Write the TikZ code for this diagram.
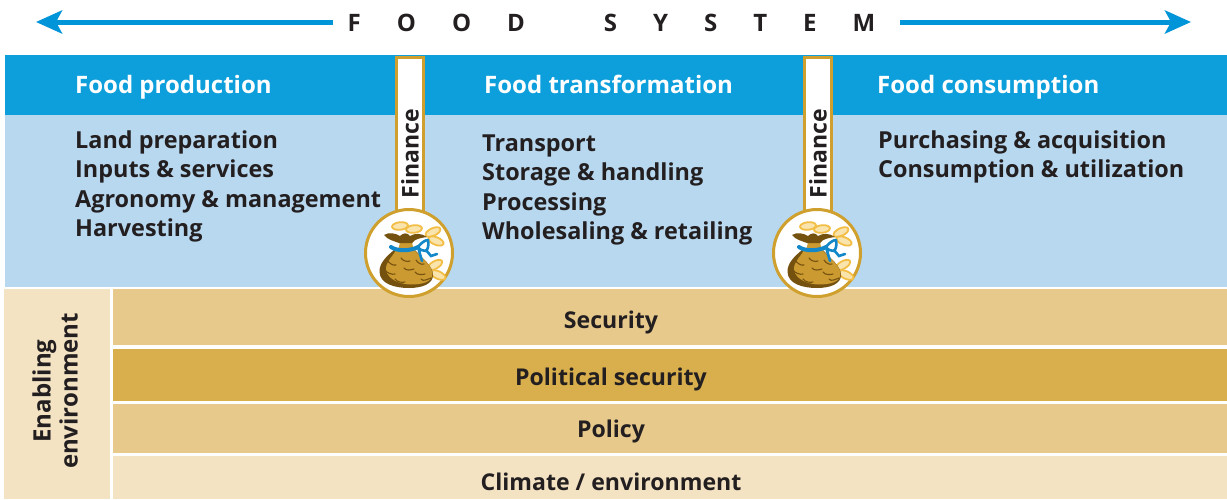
\documentclass[tikz,border=0pt]{standalone}
\usepackage{fontspec}
\setmainfont{Open Sans}
\usetikzlibrary{arrows.meta}
\definecolor{hdrblue}{HTML}{0D9FDB}
\definecolor{lightblue}{HTML}{B8D8F0}
\definecolor{arrowblue}{HTML}{0094D8}
\definecolor{sandA}{HTML}{E7C98C}
\definecolor{sandB}{HTML}{D9AF4E}
\definecolor{sandC}{HTML}{F3E3C3}
\definecolor{goldline}{HTML}{CFA02E}
\definecolor{bagfill}{HTML}{CB9A30}
\definecolor{bagdark}{HTML}{75510F}
\definecolor{coinfill}{HTML}{F9E4AE}
\definecolor{coinline}{HTML}{F3BE45}
\definecolor{ribbon}{HTML}{1287C9}
\definecolor{ink}{HTML}{231F20}
\newcommand{\moneybag}[1]{%
  \begin{scope}[shift={(#1)}]
    % coins behind
    \foreach \cx/\cy/\ang in {-9/-27/6,5/-24/6,24/-21/25,27/-12/-22,26/12/30,29/22/-25}{
      \filldraw[fill=coinfill,draw=coinline,line width=1.8pt,rotate around={\ang:(\cx,\cy)}] (\cx,\cy) ellipse [x radius=8,y radius=3.8];
    }
    % body: dark silhouette, then lighter front
    \fill[bagdark] (-15,-3) .. controls (-22,3) and (-30,10) .. (-29.5,19) .. controls (-29,31) and (-14,35) .. (0,35) .. controls (13,35) and (24,31) .. (24,22) .. controls (24,13) and (13,5) .. (6,-3) -- cycle;
    \fill[bagfill] (-13,-3) .. controls (-16,3) and (-24,10) .. (-23,17) .. controls (-21,27) and (-8,31.5) .. (2,31.5) .. controls (13,31.5) and (23.5,29) .. (23.5,21) .. controls (23.5,13) and (13,5) .. (5,-3) -- cycle;
    % neck and flared top
    \fill[bagfill] (-12,-2) .. controls (-9,-7) and (-9,-10) .. (-10,-14) -- (4,-14) .. controls (3,-10) and (3,-6) .. (6,-2) -- cycle;
    \fill[bagdark] (-25,-18) .. controls (-20,-21) and (-14,-20) .. (-9,-17) .. controls (-6,-20) and (-2,-21) .. (1,-17) .. controls (6,-20) and (12,-20) .. (18,-16) .. controls (11,-15) and (6,-14) .. (3,-10) -- (-10,-10) .. controls (-15,-12) and (-21,-13) .. (-25,-18) -- cycle;
    % folds
    \foreach \ax/\ay/\bx/\by in {-22/7/-13/12,-24/17/-14/21,-14/26/-4/29,-8/5/1/8,-5/15/5/16,7/7/15/11,6/19/16/21,12/26/22/25}{
      \draw[bagdark,line width=1.1pt,line cap=round] (\ax,\ay) .. controls (\ax+2,\ay+3) and (\bx-3,\by+1) .. (\bx,\by);
    }
    % ribbon
    \draw[ribbon,line width=4pt,line cap=round] (-18,-6) .. controls (-12,-1.5) and (2,-2) .. (9,-6);
    \draw[ribbon,line width=2.6pt,line cap=round,line join=round] (9,-6) .. controls (12,-10) and (16,-13) .. (19,-13) .. controls (20,-8) and (19,-4) .. (17,-2) .. controls (14,-2) and (11,-3) .. (9,-6) -- (13,8);
    \draw[ribbon,line width=2.6pt,line cap=round] (17,-3) -- (22,3) -- (28,1);
  \end{scope}}
\tikzset{
  x=1pt,y=-1pt,
  banner/.style={fill=#1,inner sep=0pt,outer sep=0pt,anchor=north west},
  hdrlabel/.style={anchor=base west,inner sep=0pt,text=white,font=\fontsize{24}{24}\selectfont\bfseries},
  itemlist/.style={anchor=north west,inner sep=0pt,align=left,text=ink,font=\fontsize{23.4}{29.3}\selectfont\bfseries},
  bandlabel/.style={text=ink,inner sep=0pt,font=\fontsize{23.1}{26}\selectfont\bfseries},
  financebar/.style={draw=goldline,line width=3pt,fill=white,inner sep=0pt,outer sep=0pt,anchor=north west,minimum width=26.5pt,minimum height=165pt},
  financelabel/.style={rotate=90,text=ink,inner sep=0pt,font=\fontsize{23}{24}\selectfont\bfseries},
  coinring/.style={circle,draw=goldline,line width=3pt,fill=white,inner sep=0pt,minimum size=87pt},
  sysarrow/.style={arrowblue,line width=5pt,-{Stealth[length=26pt,width=23pt,inset=6pt]}}
}
\begin{document}
\begin{tikzpicture}
\useasboundingbox (0,0) rectangle (1227,499);
% arrows and title
\node[inner sep=0pt,text=ink,font=\fontsize{24}{26}\selectfont\bfseries\addfontfeature{LetterSpace=150}] (title) at (611.5,23) {FOOD\hspace{79pt}SYSTEM};
\coordinate (lend) at (36,22);
\coordinate (lstart) at (333,22);
\coordinate (rstart) at (900,22);
\coordinate (rend) at (1191,22);
\draw[sysarrow] (lstart) -- (lend);
\draw[sysarrow] (rstart) -- (rend);
% top blocks
\node[banner=hdrblue,minimum width=1222pt,minimum height=60pt] (hdr) at (5,55) {};
\node[banner=lightblue,minimum width=1222pt,minimum height=172pt] (body) at (5,115) {};
% lower bands
\node[banner=sandC,minimum width=106pt,minimum height=210pt] (enab) at (4,289) {};
\node[banner=sandA,minimum width=1114pt,minimum height=56pt] (b1) at (113,289) {};
\node[banner=sandB,minimum width=1114pt,minimum height=52pt] (b2) at (113,349) {};
\node[banner=sandA,minimum width=1114pt,minimum height=49pt] (b3) at (113,404) {};
\node[banner=sandC,minimum width=1114pt,minimum height=43pt] (b4) at (113,456) {};
\node[bandlabel] (t1) at (611,322) {Security};
\node[bandlabel] (t2) at (611,379) {Political security};
\node[bandlabel] (t3) at (611,431) {Policy};
\node[bandlabel] (t4) at (611,482) {Climate / environment};
\node[rotate=90,inner sep=0pt,align=center,text=ink,font=\fontsize{24}{27}\selectfont\bfseries] (enabt) at (55,391) {Enabling\\environment};
% headers
\node[hdrlabel] (h1) at (75,93) {Food production};
\node[hdrlabel] (h2) at (484,93) {Food transformation};
\node[hdrlabel] (h3) at (877,93) {Food consumption};
% lists
\node[itemlist] (l1) at (75,130.5) {Land preparation\\Inputs \& services\\Agronomy \& management\\Harvesting};
\node[itemlist] (l2) at (482,134.5) {Transport\\Storage \& handling\\Processing\\Wholesaling \& retailing};
\node[itemlist] (l3) at (878,130.5) {Purchasing \& acquisition\\Consumption \& utilization};
% finance
\node[financebar] (f1) at (396.5,57) {};
\node[financebar] (f2) at (804.5,57) {};
\node[financelabel] (ft1) at (410,153.5) {Finance};
\node[financelabel] (ft2) at (818,153.5) {Finance};
\node[coinring] (c1) at (409,253) {};
\node[coinring] (c2) at (817,253) {};
\moneybag{409,253}
\moneybag{817,253}
\end{tikzpicture}
\end{document}
